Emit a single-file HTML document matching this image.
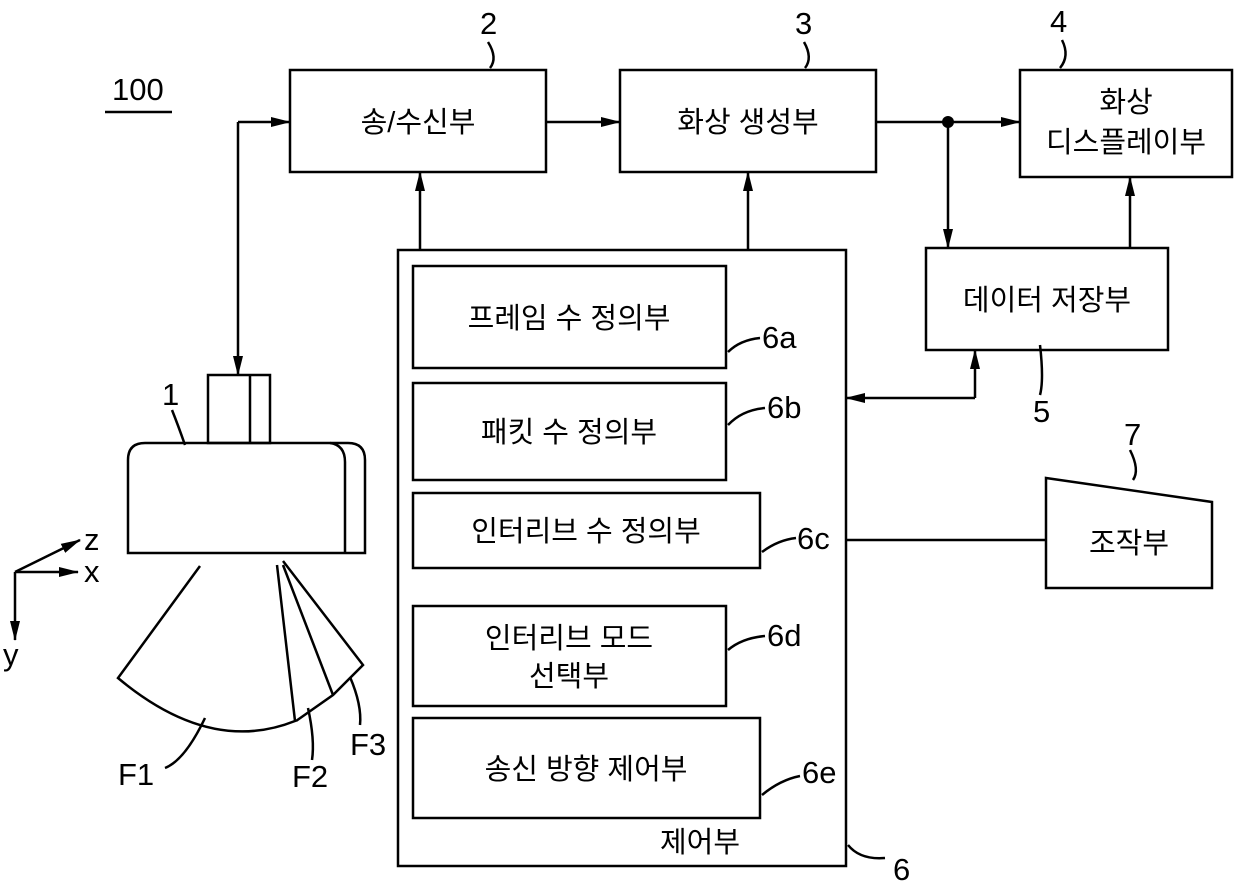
<!DOCTYPE html>
<html><head><meta charset="utf-8"><style>
body{margin:0;background:#fff}
text{font-family:"Liberation Sans","Noto Sans CJK KR","NanumGothic",sans-serif;fill:#000}
.k{font-size:29px}
.n{font-size:31px}
</style></head><body>
<svg width="1240" height="886" viewBox="0 0 1240 886" xmlns="http://www.w3.org/2000/svg">
<defs><marker id="b" markerWidth="20" markerHeight="12" refX="19" refY="6" orient="auto" markerUnits="userSpaceOnUse"><path d="M0,1 L20,6 L0,11 Z" fill="#000"/></marker></defs>
<g fill="none" stroke="#000" stroke-width="2.5">
<rect x="290" y="70" width="256" height="102"/>
<rect x="620" y="70" width="256" height="102"/>
<rect x="1020" y="70" width="212" height="107"/>
<rect x="926" y="248" width="242" height="102"/>
<rect x="398" y="250" width="448" height="616"/>
<rect x="413" y="266" width="313" height="102"/>
<rect x="413" y="383" width="313" height="97"/>
<rect x="413" y="493" width="347" height="75"/>
<rect x="413" y="606" width="313" height="100"/>
<rect x="413" y="718" width="347" height="100"/>
<path d="M1046,478 L1212,502 L1212,588 L1046,588 Z"/>
<rect x="208" y="375" width="62" height="68"/><line x1="250" y1="375" x2="250" y2="443"/>
<path d="M128,553 L128,460 Q128,443 145,443 L348,443 Q365,443 365,460 L365,553 Z"/>
<path d="M330,443 Q345,445 345,462 L345,553"/>
<path d="M200,566 L118,678 Q210,755 295,721 L277,565"/>
<path d="M283,565 L333,695"/><path d="M283,561 L363,665 L333,695 L296,721"/>
<path d="M238,122 L238,375" marker-end="url(#b)"/>
<path d="M238,122 L290,122" marker-end="url(#b)"/>
<path d="M546,122 L620,122" marker-end="url(#b)"/>
<path d="M876,122 L1020,122" marker-end="url(#b)"/>
<path d="M948,122 L948,248" marker-end="url(#b)"/>
<path d="M1130,248 L1130,177" marker-end="url(#b)"/>
<path d="M420,250 L420,172" marker-end="url(#b)"/>
<path d="M748,250 L748,172" marker-end="url(#b)"/>
<path d="M975,398 L975,350" marker-end="url(#b)"/>
<path d="M975,398 L846,398" marker-end="url(#b)"/>
<line x1="846" y1="540" x2="1046" y2="540"/>
<path d="M15,572 L80,540" marker-end="url(#b)"/><path d="M15,572 L78,572" marker-end="url(#b)"/><path d="M15,572 L15,640" marker-end="url(#b)"/>
<line x1="105" y1="112" x2="172" y2="112"/>
<path d="M490,68 Q498,58 488,42"/><path d="M805,68 Q813,58 804,42"/><path d="M1060,68 Q1070,56 1062,40"/>
<path d="M185,445 Q178,425 172,410"/>
<path d="M728,352 Q740,340 760,338"/><path d="M728,425 Q742,410 765,408"/><path d="M762,552 Q778,540 796,538"/>
<path d="M728,650 Q742,638 765,636"/><path d="M762,795 Q780,780 800,776"/>
<path d="M848,845 Q860,860 885,858"/>
<path d="M1040,345 Q1044,380 1040,395"/><path d="M1133,480 Q1140,470 1130,450"/>
<path d="M205,718 Q185,760 165,768"/><path d="M308,708 Q315,740 312,760"/><path d="M350,677 Q362,705 360,725"/>
</g>
<circle cx="948" cy="122" r="6" fill="#000"/>
<g class="k" text-anchor="middle">
<text x="418" y="132">송/수신부</text>
<text x="748" y="132">화상 생성부</text>
<text x="1126" y="112">화상</text><text x="1126" y="152">디스플레이부</text>
<text x="1047" y="310">데이터 저장부</text>
<text x="569" y="328">프레임 수 정의부</text>
<text x="569" y="442">패킷 수 정의부</text>
<text x="586" y="541">인터리브 수 정의부</text>
<text x="569" y="648">인터리브 모드</text><text x="569" y="686">선택부</text>
<text x="586" y="779">송신 방향 제어부</text>
<text x="700" y="852">제어부</text>
<text x="1129" y="553">조작부</text>
</g>
<g class="n">
<text x="112" y="100">100</text>
<text x="480" y="34">2</text><text x="795" y="34">3</text><text x="1050" y="32">4</text>
<text x="1033" y="422">5</text><text x="1124" y="445">7</text><text x="893" y="880">6</text>
<text x="162" y="405">1</text>
<text x="762" y="348">6a</text><text x="767" y="418">6b</text><text x="797" y="549">6c</text>
<text x="767" y="646">6d</text><text x="802" y="783">6e</text>
<text x="84" y="550">z</text><text x="84" y="582">x</text><text x="3" y="665">y</text>
<text x="118" y="785">F1</text><text x="292" y="787">F2</text><text x="350" y="755">F3</text>
</g>
</svg>
</body></html>
